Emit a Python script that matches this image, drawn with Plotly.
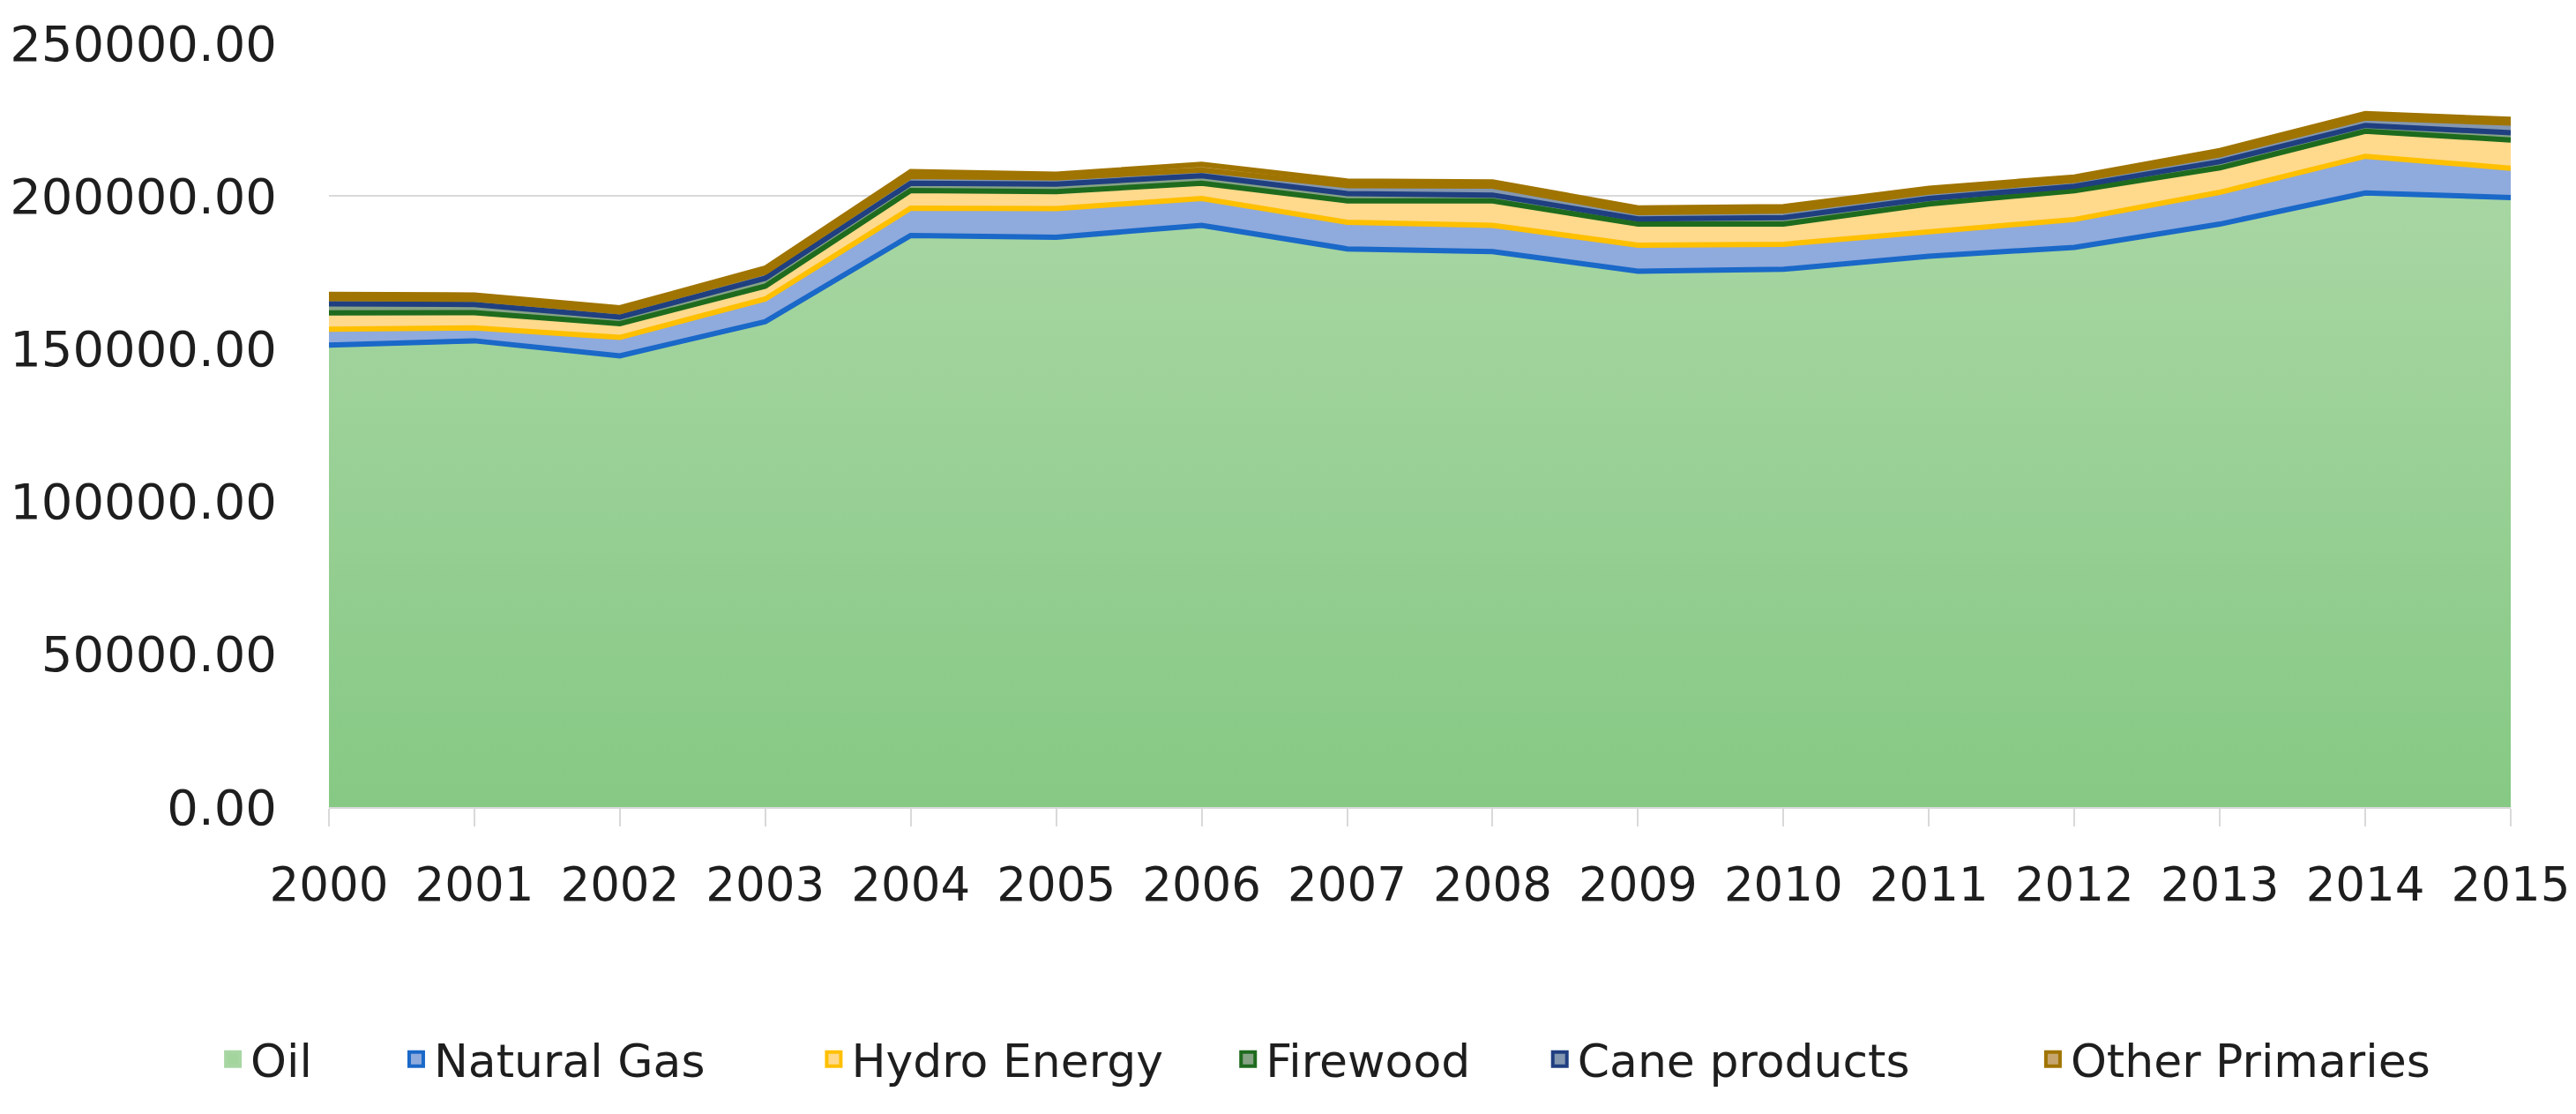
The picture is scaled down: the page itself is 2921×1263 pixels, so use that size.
import plotly.graph_objects as go

# ---- data ----
years = [2000, 2001, 2002, 2003, 2004, 2005, 2006, 2007,
         2008, 2009, 2010, 2011, 2012, 2013, 2014, 2015]
oil = [151200, 152600, 147700, 158900, 187100, 186500, 190400, 182700,
       181800, 175400, 176000, 180300, 183200, 190800, 201000, 199500]
natural_gas = [5200, 4200, 6000, 7400, 8900, 9400, 8800, 8700,
               8600, 8500, 8200, 8100, 9100, 10400, 12000, 9600]
hydro_energy = [5300, 5000, 4500, 4200, 5800, 5500, 5000, 7000,
                8000, 6900, 6600, 9000, 9400, 8000, 8200, 9200]
firewood = [3000, 2700, 2200, 2600, 2400, 2500, 2400, 2400,
            1900, 1700, 2100, 1800, 1500, 2000, 1900, 2400]
cane_products = [1700, 1700, 1700, 1900, 2200, 2000, 1900, 2600,
                 2900, 2100, 2200, 2100, 1900, 2300, 2400, 3200]
other_primaries = [1400, 1400, 1300, 1400, 1600, 1200, 1900, 1500,
                   1400, 1500, 1400, 1200, 1100, 1400, 1500, 1200]
series_names = ["Oil", "Natural Gas", "Hydro Energy", "Firewood",
                "Cane products", "Other Primaries"]
y_ticks = [0, 50000, 100000, 150000, 200000, 250000]

# ---- styles ----
fills = ["#A3D49E", "#8FAADC", "#FFD98C", "#86A386", "#8497B0", "#C6A66E"]
borders = ["#B5DDB0", "#1A68C8", "#FFC000", "#1E6B1E", "#1F3F80", "#A07400"]
NB, TH, HR = "\u00a0", "\u2009", "\u200a"
legend_pad = [NB * 5 + TH, NB * 7 + HR, NB * 4 + HR, NB * 4 + TH, NB * 8 + HR, ""]
FONT = "DejaVu Sans"
TXT = "#1E1E1E"

values = [oil, natural_gas, hydro_energy, firewood, cane_products, other_primaries]

fig = go.Figure()
for i, (name, vals) in enumerate(zip(series_names, values)):
    line_color = borders[i + 1] if i + 1 < len(borders) else borders[i]
    kw = {}
    if i == 0:
        kw["fillgradient"] = dict(type="vertical", start=0, stop=200000,
                                  colorscale=[[0, "#86C984"], [1, "#A8D6A3"]])
    else:
        kw["fillcolor"] = fills[i]
    fig.add_trace(go.Scatter(
        x=years, y=vals, stackgroup="energy", mode="lines",
        line=dict(color=line_color, width=6),
        showlegend=False, hoverinfo="skip", name=name, **kw))

# legend-only entries
for i, name in enumerate(series_names):
    fig.add_trace(go.Scatter(
        x=[None], y=[None], mode="markers",
        marker=dict(symbol="square", size=16, color=fills[i],
                    line=dict(color=borders[i] if i else "#A8D6A3", width=4)),
        name=name + legend_pad[i], showlegend=True))

fig.update_layout(
    width=2921, height=1263,
    margin=dict(l=365, r=82, t=41, b=356, autoexpand=False),
    paper_bgcolor="white", plot_bgcolor="white",
    font=dict(family=FONT, size=52, color=TXT),
    showlegend=True,
    legend=dict(orientation="h", xref="paper", yref="paper",
                x=-0.0521, xanchor="left", y=-0.3302, yanchor="middle",
                font=dict(family=FONT, size=52, color=TXT),
                itemsizing="trace", traceorder="normal"),
    xaxis=dict(range=[2000, 2015], tickmode="array", tickvals=years,
               ticktext=[str(y) for y in years], automargin=False,
               showgrid=False, zeroline=False,
               showline=True, linecolor="#D9D9D9", linewidth=2,
               ticks="outside", ticklen=20, tickwidth=2, tickcolor="#D9D9D9",
               ticklabelstandoff=20,
               tickfont=dict(family=FONT, size=53, color=TXT)),
    yaxis=dict(range=[0, 250000], tickmode="array", tickvals=y_ticks,
               tickformat=".2f", showgrid=True, gridcolor="#D9D9D9",
               gridwidth=2, zeroline=False, showline=False, ticks="",
               automargin=False, ticklabelstandoff=58,
               tickfont=dict(family=FONT, size=56, color=TXT)),
)

fig.write_html("out.html")
